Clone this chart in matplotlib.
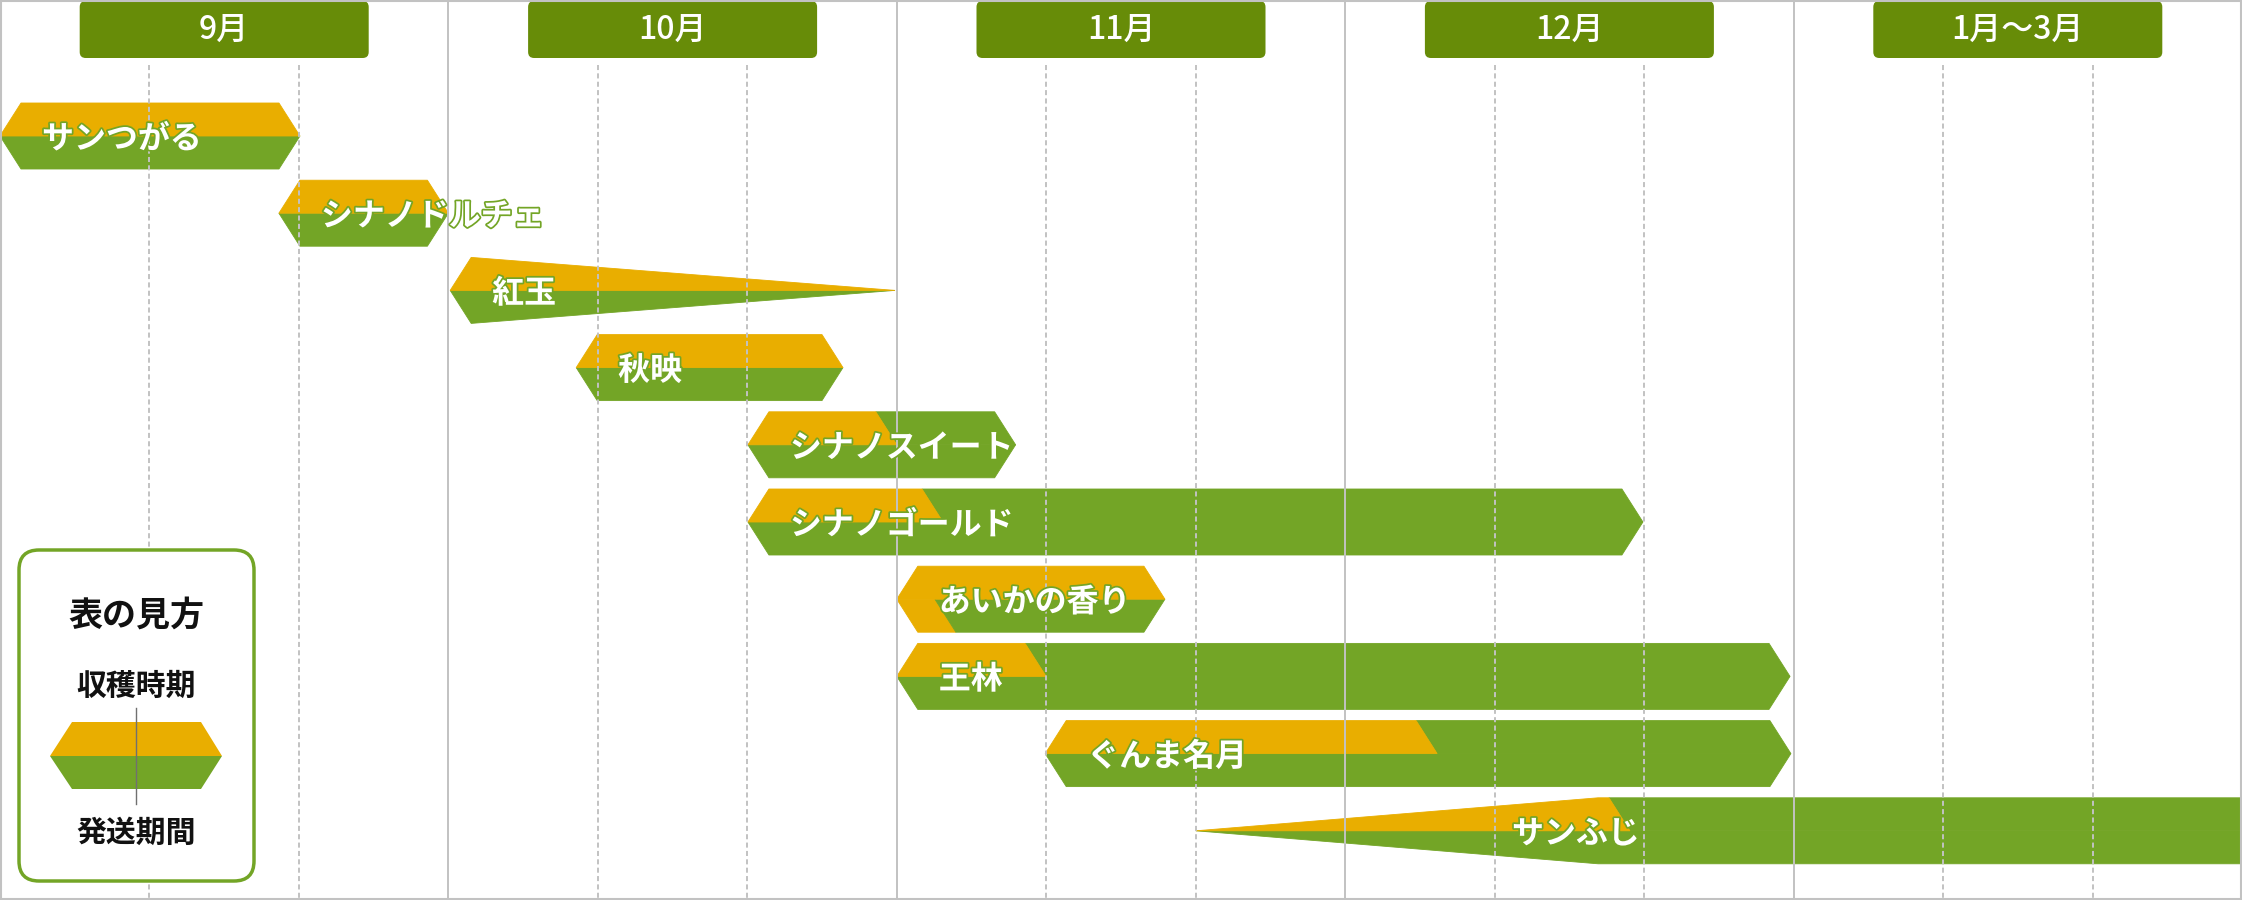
"""
apple harvest / shipping calendar (収穫時期・発送期間)
"""
import matplotlib
matplotlib.use("Agg")
import matplotlib.pyplot as plt
from matplotlib.patches import Polygon, FancyBboxPatch, Rectangle
import matplotlib.patheffects as pe

plt.rcParams["font.family"] = ["Noto Sans CJK JP", "DejaVu Sans"]

months = ["9月", "10月", "11月", "12月", "1月〜3月"]
varieties = ["サンつがる", "シナノドルチェ", "紅玉", "秋映", "シナノスイート",
             "シナノゴールド", "あいかの香り", "王林", "ぐんま名月", "サンふじ"]
# positions in months counted from 1 Sep (one unit = one month column)
start = [0.0, 0.622, 1.004, 1.285, 1.668, 1.668, 2.0, 2.0, 2.331, 2.667]
end = [0.669, 1.0, 1.996, 1.880, 2.265, 3.664, 2.598, 3.992, 3.994, 5.2]
harvest_end = [0.669, 1.0, 1.996, 1.880, 2.0, 2.103, 2.598, 2.333, 3.205, 3.635]
ship_start = [0.0, 0.622, 1.004, 1.285, 1.668, 1.668, 2.085, 2.0, 2.331, 2.667]
fade_out = ["紅玉"]             # tails off to a point
fade_in = {"サンふじ": 3.564}   # widens until this point
label_at = {"サンふじ": 3.372}

ORANGE = "#e9ae00"
GREEN = "#73a526"
HEAD = "#678c08"
GRID = "#c2c2c2"

W, H = 2242, 900
ROW0, STEP = 136, 77.2          # px
xpx = len(months) / W           # month units per px
C = 21 * xpx                    # chevron inset
HALF = 33 / STEP


def ypx(p):
    return (p - ROW0) / STEP


def shape(pts, col):
    ax.add_patch(Polygon(pts, fc=col, ec=col, lw=0.6, zorder=2))


fig = plt.figure(figsize=(W / 100, H / 100), dpi=100)
ax = fig.add_axes([0, 0, 1, 1])
ax.set_xlim(0, len(months))
ax.set_ylim(ypx(H), ypx(0))
ax.axis("off")

# month headers
asp = (1 / STEP) / xpx
for i, m in enumerate(months):
    w = 289 * xpx
    box = FancyBboxPatch((i + 0.5 - w / 2, ypx(1)), w, ypx(58) - ypx(1),
                         boxstyle="round,pad=0,rounding_size=%f" % (6 * xpx),
                         mutation_aspect=asp, fc=HEAD, ec="none", zorder=4)
    ax.add_patch(box)
    ax.text(i + 0.5, ypx(30), m, ha="center", va="center", color="white",
            fontsize=23, fontweight="medium", zorder=5)

# grid
for k in range(1, len(months)):
    ax.vlines(k, ypx(0), ypx(H), color=GRID, lw=1.4, zorder=3)
for k in range(len(months)):
    for f in (1 / 3, 2 / 3):
        ax.vlines(k + f, ypx(65), ypx(H), color=GRID, lw=1.4,
                  linestyles=(0, (2.6, 1.7)), zorder=3)

# bars
for r, name in enumerate(varieties):
    xl, xr = start[r], end[r]
    he, ss = harvest_end[r], ship_start[r]
    lc = fade_in.get(name, xl + C)
    rc = lc if name in fade_out else xr - C
    top, bot = r - HALF, r + HALF
    if he >= xr:
        otop = [(xl, r), (lc, top), (rc, top), (xr, r)]
    else:
        otop = [(xl, r), (lc, top), (he - C, top), (he, r)]
        shape([(he - C, top), (rc, top), (xr, r), (he, r)], GREEN)
    if ss > xl:
        shape([(xl, r), (ss, r), (ss + C, bot), (lc, bot)], ORANGE)
        bl = ss + C
    else:
        bl = lc
    shape([(ss, r), (xr, r), (rc, bot), (bl, bot)], GREEN)
    shape(otop, ORANGE)
    ax.text(label_at.get(name, xl + 42 * xpx), r, name, ha="left",
            va="center_baseline", color="white", fontsize=23,
            fontweight="bold", zorder=6,
            path_effects=[pe.withStroke(linewidth=2.5, foreground=GREEN)])

# legend box (pixel coordinates)
lg = fig.add_axes([0, 0, 1, 1], zorder=5)
lg.set_xlim(0, W)
lg.set_ylim(H, 0)
lg.axis("off")
lg.add_patch(FancyBboxPatch((19, 550), 235, 331,
                            boxstyle="round,pad=0,rounding_size=20",
                            fc="white", ec=GREEN, lw=2.5))
lg.text(136, 612, "表の見方", ha="center", va="center_baseline",
        fontsize=24.5, fontweight="bold", color="#111111")
lg.text(136, 683, "収穫時期", ha="center", va="center_baseline",
        fontsize=21.5, fontweight="bold", color="#111111")
lg.text(136, 830, "発送期間", ha="center", va="center_baseline",
        fontsize=21.5, fontweight="bold", color="#111111")
lg.add_patch(Polygon([(50, 756), (72, 722), (201, 722), (222, 756)],
                     fc=ORANGE, ec="none"))
lg.add_patch(Polygon([(50, 756), (222, 756), (201, 789), (72, 789)],
                     fc=GREEN, ec="none"))
lg.plot([136, 136], [708, 804], color="#707070", lw=1.0)
lg.add_patch(Rectangle((1, 1), W - 2, H - 2, fill=False, ec=GRID, lw=1.5))

fig.savefig("out.png", dpi=100)
